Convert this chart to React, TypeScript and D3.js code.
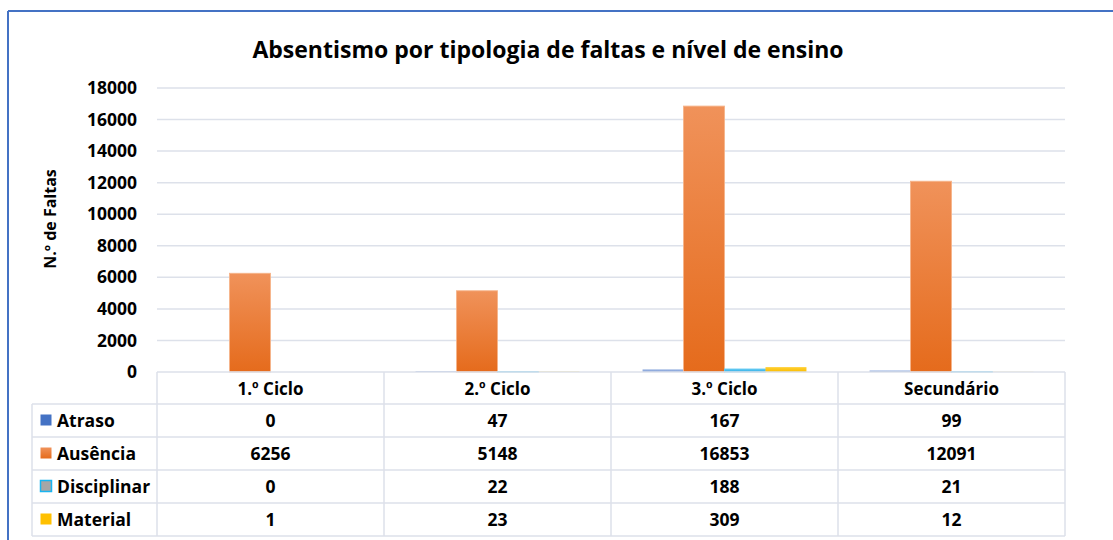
import React from "react";
import * as d3 from "d3";

const categories = ["1.º Ciclo", "2.º Ciclo", "3.º Ciclo", "Secundário"];
const seriesNames = ["Atraso", "Ausência", "Disciplinar", "Material"];
const atraso = [0, 47, 167, 99];
const ausencia = [6256, 5148, 16853, 12091];
const disciplinar = [0, 22, 188, 21];
const material = [1, 23, 309, 12];
const yTicks = [0, 2000, 4000, 6000, 8000, 10000, 12000, 14000, 16000, 18000];

const W = 1113;
const H = 540;
const LEFT = 157;
const RIGHT = 1065;
const TOP = 88;
const BASE = 372;
const TABLE_LEFT = 32;
const HEADER_H = 32;
const ROW_H = 33;
const FONT = "'Open Sans', sans-serif";

const colors = [
  { top: "#9db5e2", bottom: "#7f9fd8", swatch: "#4472C4", stroke: "none" },
  { top: "#f0925a", bottom: "#e56b1c", swatch: "#ED7D31", stroke: "#f6b48a" },
  { top: "#5cc6f2", bottom: "#2eaee6", swatch: "#a6a6a6", stroke: "#5ec8f0" },
  { top: "#ffcf33", bottom: "#fbbd00", swatch: "#FFC000", stroke: "none" }
];

export default function App() {
  const series = [atraso, ausencia, disciplinar, material];

  const x = d3.scaleBand<string>().domain(categories).range([LEFT, RIGHT]).paddingInner(0).paddingOuter(0);
  const inner = d3.scaleBand<string>().domain(seriesNames).range([0, x.bandwidth()]).paddingOuter(0.77);
  const y = d3.scaleLinear().domain([0, 18000]).range([BASE, TOP]);

  const tableBottom = BASE + HEADER_H + ROW_H * seriesNames.length;

  return (
    <svg width={W} height={H} style={{ position: "absolute", left: 0, top: 0, fontFamily: FONT }}>
      <defs>
        {colors.map((c, i) => (
          <linearGradient key={i} id={`g${i}`} x1="0" y1="0" x2="0" y2="1">
            <stop offset="0%" stopColor={c.top} />
            <stop offset="100%" stopColor={c.bottom} />
          </linearGradient>
        ))}
        <linearGradient id="sw1" x1="0" y1="0" x2="0" y2="1">
          <stop offset="0%" stopColor="#f0925a" />
          <stop offset="100%" stopColor="#e56b1c" />
        </linearGradient>
      </defs>
      <rect x={0} y={0} width={W} height={H} fill="#fff" />
      {/* chart frame */}
      <line x1={8} x2={W} y1={11} y2={11} stroke="#4472C4" strokeWidth={2} />
      <line x1={8} x2={8} y1={11} y2={H} stroke="#4472C4" strokeWidth={2} />

      <text x={548} y={50} dy="0.35em" textAnchor="middle" fontSize={23} fontWeight={700} fill="#000">
        Absentismo por tipologia de faltas e nível de ensino
      </text>

      <text
        transform={`translate(50, 219) rotate(-90)`}
        dy="0.35em"
        textAnchor="middle"
        fontSize={16}
        fontWeight={700}
        fill="#000"
      >
        N.º de Faltas
      </text>

      {yTicks.map((t) => (
        <g key={t}>
          {t > 0 && (
            <line x1={LEFT} x2={RIGHT} y1={y(t)} y2={y(t)} stroke="#dde1ea" strokeWidth={1.5} />
          )}
          <text x={137} y={y(t)} dy="0.35em" textAnchor="end" fontSize={17.5} fontWeight={700} fill="#000">
            {t}
          </text>
        </g>
      ))}

      {categories.map((cat, ci) => (
        <g key={cat} transform={`translate(${x(cat)},0)`}>
          {seriesNames.map((s, si) => {
            const v = series[si][ci];
            return (
              <rect
                key={s}
                x={inner(s)}
                y={y(v)}
                width={inner.bandwidth()}
                height={BASE - y(v)}
                fill={`url(#g${si})`}
                stroke={v > 0 ? colors[si].stroke : "none"}
                strokeWidth={0.9}
              />
            );
          })}
        </g>
      ))}

      {/* data table */}
      <g stroke="#dde1ea" strokeWidth={1.5} fill="none">
        <line x1={LEFT} x2={RIGHT} y1={BASE} y2={BASE} />
        {seriesNames.map((s, i) => (
          <line key={s} x1={TABLE_LEFT} x2={RIGHT} y1={BASE + HEADER_H + i * ROW_H} y2={BASE + HEADER_H + i * ROW_H} />
        ))}
        <line x1={TABLE_LEFT} x2={RIGHT} y1={tableBottom} y2={tableBottom} />
        <line x1={TABLE_LEFT} x2={TABLE_LEFT} y1={BASE + HEADER_H} y2={tableBottom} />
        {categories.map((c) => (
          <line key={c} x1={x(c)} x2={x(c)} y1={BASE} y2={tableBottom} />
        ))}
        <line x1={RIGHT} x2={RIGHT} y1={BASE} y2={tableBottom} />
      </g>

      {categories.map((c) => (
        <text
          key={c}
          x={(x(c) ?? 0) + x.bandwidth() / 2}
          y={BASE + HEADER_H / 2 + 1}
          dy="0.35em"
          textAnchor="middle"
          fontSize={17}
          fontWeight={700}
          fill="#000"
        >
          {c}
        </text>
      ))}

      {seriesNames.map((s, si) => {
        const cy = BASE + HEADER_H + si * ROW_H + ROW_H / 2;
        return (
          <g key={s}>
            <rect
              x={TABLE_LEFT + 8.5}
              y={cy - 6}
              width={11}
              height={11}
              fill={si === 1 ? "url(#sw1)" : colors[si].swatch}
              stroke={si === 2 ? "#19b4f0" : "none"}
              strokeWidth={si === 2 ? 1.5 : 0}
            />
            <text x={TABLE_LEFT + 25} y={cy} dy="0.35em" fontSize={17.5} fontWeight={700} fill="#000">
              {s}
            </text>
            {categories.map((c, ci) => (
              <text
                key={c}
                x={(x(c) ?? 0) + x.bandwidth() / 2}
                y={cy}
                dy="0.35em"
                textAnchor="middle"
                fontSize={17.5}
                fontWeight={700}
                fill="#000"
              >
                {series[si][ci]}
              </text>
            ))}
          </g>
        );
      })}
    </svg>
  );
}
